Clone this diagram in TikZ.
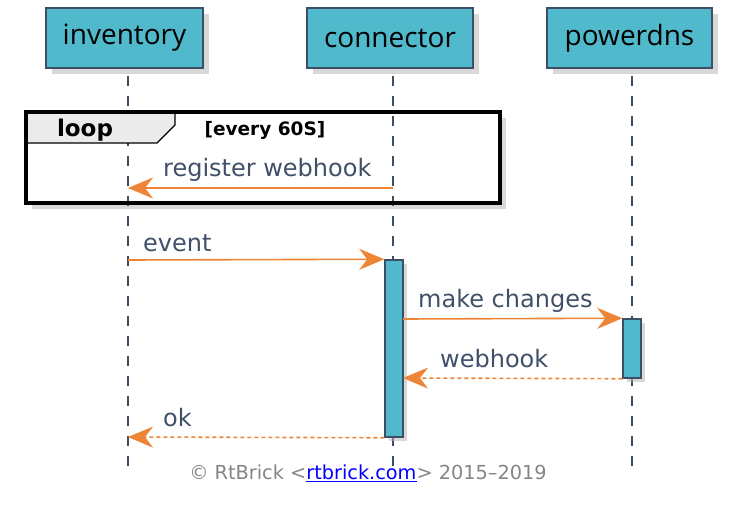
\documentclass[tikz,border=0pt]{standalone}
\usepackage{fontspec}
\setmainfont{DejaVu Sans}
\newfontfamily\partfont{Open Sans}
\usetikzlibrary{arrows.meta}
\usetikzlibrary{shadows}
\definecolor{partfill}{HTML}{50BACC}
\definecolor{partline}{HTML}{3D4E67}
\definecolor{msgcolor}{HTML}{EE8536}
\definecolor{msgtext}{HTML}{415069}
\tikzstyle{participant}=[draw=partline, line width=2pt, fill=partfill, minimum height=60pt, inner sep=0pt, font=\partfont\fontsize{28}{30}\selectfont, drop shadow={shadow xshift=6pt, shadow yshift=-6pt, fill=black!30}]
\tikzstyle{lifeline}=[draw=partline, line width=1.5pt, dash pattern=on 10pt off 10pt]
\tikzstyle{activation}=[draw=partline, line width=1.5pt, fill=partfill, minimum width=18pt, inner sep=0pt, drop shadow={shadow xshift=4pt, shadow yshift=-4pt, fill=black!30}]
\tikzstyle{msg}=[draw=msgcolor, line width=1.6pt, -{Stealth[length=25pt, width=21pt, inset=8pt]}]
\tikzstyle{reply}=[msg, dash pattern=on 4pt off 3pt]
\tikzstyle{msglabel}=[text=msgtext, font=\fontsize{24}{26}\selectfont, inner sep=0pt, anchor=west]

\begin{document}
\begin{tikzpicture}[x=1pt, y=-1pt]
	\useasboundingbox (0,0) rectangle (730,505);
	\node[participant, minimum width=157pt] (inventory) at (124.5,38) {inventory};
	\node[participant, minimum width=166pt] (connector) at (390,38) {connector};
	\node[participant, minimum width=165pt] (powerdns) at (629.5,38) {powerdns};

	\draw[draw=none, fill=white, drop shadow={shadow xshift=6pt, shadow yshift=-6pt, fill=black!30}] (26,112) rectangle (500,203);
	\foreach \x/\n in {128/inv, 393/con, 632/pdns} {
		\coordinate (\n-top) at (\x,76);
		\coordinate (\n-end) at (\x,467);
		\draw[lifeline] (\n-top) -- (\n-end);
	}
	\filldraw[fill=black!8, draw=black, line width=1.2pt] (26,112) -- (175,112) -- (175,125) -- (157,143) -- (26,143) -- cycle;
	\draw[line width=3.2pt] (26,112) rectangle (500,203);
	\node[font=\bfseries\fontsize{23}{26}\selectfont] (loop) at (85,130) {loop};
	\node[font=\bfseries\fontsize{18.5}{21}\selectfont] (loopcond) at (265,130) {[every 60S]};

	\coordinate (con-reg) at (393,188);
	\coordinate (inv-reg) at (128,188);
	\draw[msg] (con-reg) -- (inv-reg);
	\node[msglabel] (reg-label) at (163,170) {register webhook};

	\node[activation, minimum height=177pt] (con-act) at (394,348.5) {};
	\node[activation, minimum height=59pt] (pdns-act) at (632,348.5) {};

	\coordinate (inv-ev) at (128,260);
	\draw[msg] (inv-ev) -- (con-act.north west);
	\node[msglabel] (ev-label) at (143,243) {event};

	\coordinate (con-mc) at (403,319);
	\draw[msg] (con-mc) -- (pdns-act.north west);
	\node[msglabel] (mc-label) at (418,301) {make changes};

	\coordinate (con-wh) at (403,378);
	\draw[reply] (pdns-act.south west) -- (con-wh);
	\node[msglabel] (wh-label) at (440,359) {webhook};

	\coordinate (inv-ok) at (128,437);
	\draw[reply] (con-act.south west) -- (inv-ok);
	\node[msglabel] (ok-label) at (163,418) {ok};

	\node[text=black!48, font=\fontsize{19.3}{21}\selectfont] (footer) at (368,473) {© RtBrick <\textcolor{blue}{\underline{rtbrick.com}}> 2015–2019};
\end{tikzpicture}
\end{document}
